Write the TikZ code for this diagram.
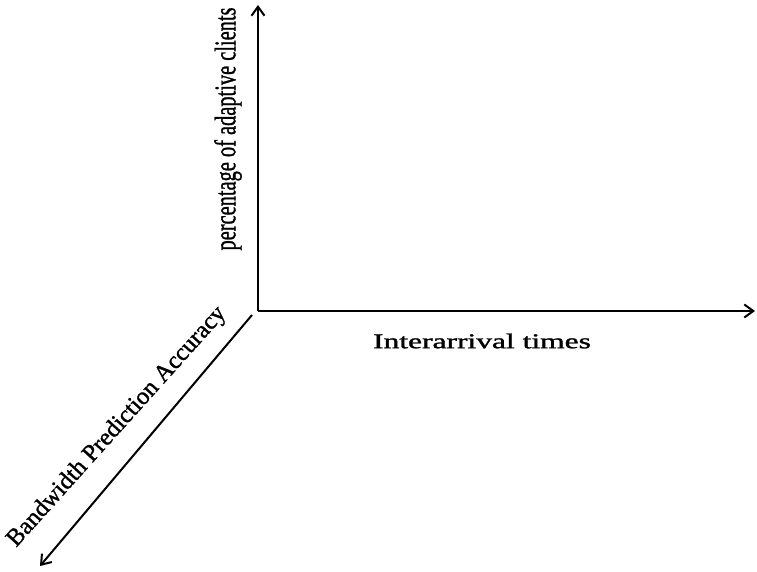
\documentclass[tikz,border=0pt]{standalone}
\usepackage{fontspec}
\setmainfont[FakeBold=1.2]{Liberation Serif}
\usetikzlibrary{arrows.meta}
\begin{document}
\begin{tikzpicture}[x=1pt,y=-1pt,
  axis/.style={line width=2pt,-{Straight Barb[length=9pt,width=13pt,line width=2pt]}},
  lbl/.style={inner sep=0pt,font=\fontsize{30}{30}\selectfont}]
\useasboundingbox (0,0) rectangle (757,571);
\coordinate (O) at (258,311);
\coordinate (Ytip) at (258,5);
\coordinate (Xtip) at (755,311);
\coordinate (Dstart) at (252,315);
\coordinate (Dtip) at (40,566);
\draw[axis] (O) -- (Ytip);
\draw[axis] (O) -- (Xtip);
\draw[axis] (Dstart) -- (Dtip);
\node[lbl,rotate=90] (ylab) at (228,129) {\scalebox{0.68}[1]{percentage of adaptive clients}};
\node[inner sep=0pt,font=\fontsize{21}{21}\selectfont] (xlab) at (482,341) {\scalebox{1.5}[1]{Interarrival times}};
\node[inner sep=0pt,font=\fontsize{24.5}{24.5}\selectfont,rotate=48] (dlab) at (117,427) {Bandwidth Prediction Accuracy};
\end{tikzpicture}
\end{document}
